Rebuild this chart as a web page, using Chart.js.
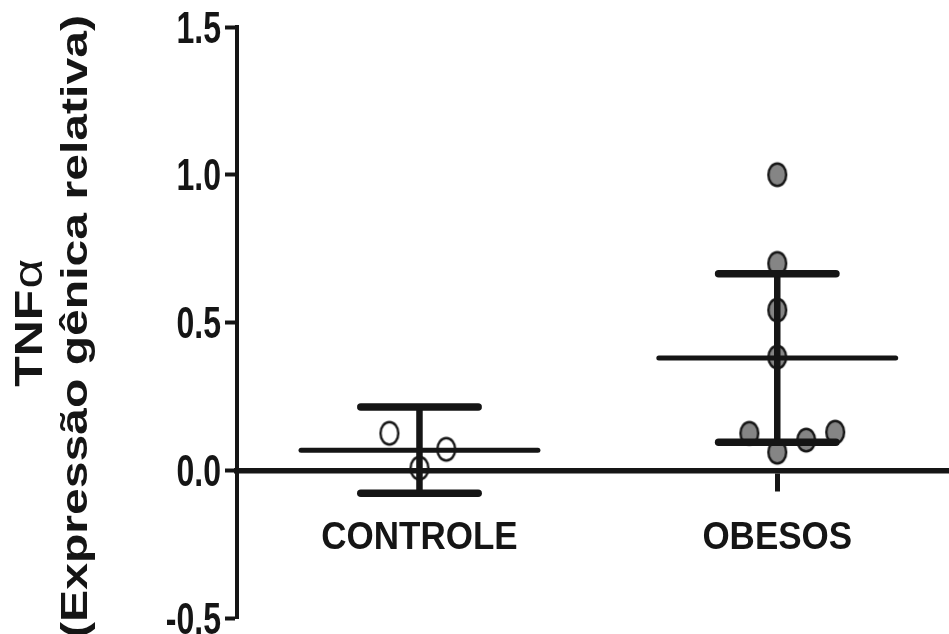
<!DOCTYPE html>
<html>
<head>
<meta charset="utf-8">
<script src="https://cdn.jsdelivr.net/npm/chart.js@4.4.1/dist/chart.umd.min.js"></script>
<style>
  html, body { margin: 0; padding: 0; background: #fff; }
  #wrap { width: 949px; height: 634px; }
</style>
</head>
<body>
<div id="wrap"><canvas id="tnf-chart"></canvas></div>
<script>
'use strict'

/* ------------------------------ Data ------------------------------ */

const groups = ['CONTROLE', 'OBESOS']
const yTicks = [-0.5, 0, 0.5, 1.0, 1.5]

// relative expression, one value per sample
const controleValues = [0.125, 0.007, 0.071]
const obesosValues = [1.0, 0.70, 0.542, 0.383, 0.125, 0.061, 0.102, 0.129]

// sideways spread of overlapping dots (category units)
const controleJitter = [-0.084, 0, 0.075]
const obesosJitter = [0, 0, 0, 0, -0.078, 0, 0.081, 0.162]

// mean and error bar half length per group
const groupMeans = [0.068, 0.380]
const groupErrors = [0.146, 0.285]

/* ------------------------------ Styles ------------------------------ */

const INK = '#151515'
const DOT_GREY = '#858585'
const MEAN_HALF = 0.331
const CAP_HALF = 0.164
const FONT = '"Liberation Sans", Arial, sans-serif'

// dots are slightly taller than wide, so draw them on a small canvas
function ellipseDot (fill) {
  const c = document.createElement('canvas')
  c.width = 24
  c.height = 28
  const g = c.getContext('2d')
  g.beginPath()
  g.ellipse(12, 14, 8.9, 11.2, 0, 0, Math.PI * 2)
  if (fill) {
    g.fillStyle = fill
    g.fill()
  }
  g.lineWidth = 2.4
  g.strokeStyle = INK
  g.stroke()
  return c
}

function segment (x1, y1, x2, y2, width, cap) {
  return {
    data: [{ x: x1, y: y1 }, { x: x2, y: y2 }],
    showLine: true,
    borderColor: INK,
    borderWidth: width,
    borderCapStyle: cap,
    pointRadius: 0,
    pointHoverRadius: 0
  }
}

function groupLines (i) {
  const cx = i + 1
  const m = groupMeans[i]
  const e = groupErrors[i]
  return [
    segment(cx - MEAN_HALF, m, cx + MEAN_HALF, m, 5, 'round'),
    segment(cx - CAP_HALF, m + e, cx + CAP_HALF, m + e, 7.5, 'round'),
    segment(cx - CAP_HALF, m - e, cx + CAP_HALF, m - e, 7.5, 'round'),
    segment(cx, m - e, cx, m + e, 6.5, 'butt')
  ]
}

function dots (values, jitter, cx, style) {
  return {
    data: values.map((v, k) => ({ x: cx + jitter[k], y: v })),
    pointStyle: style,
    pointRadius: 11,
    pointHoverRadius: 11
  }
}

/* --------------------------- Stretched text --------------------------- */

const textPlugin = {
  id: 'stretchedText',
  afterDraw (chart) {
    const { ctx } = chart
    const x = chart.scales.x
    const y = chart.scales.y
    ctx.save()
    ctx.fillStyle = INK
    ctx.textBaseline = 'alphabetic'

    // value labels on the left axis
    ctx.font = 'bold 32px ' + FONT
    ctx.textAlign = 'right'
    yTicks.forEach(v => {
      ctx.save()
      ctx.translate(y.right - 16, y.getPixelForValue(v) + 15.5)
      ctx.scale(1, 1.36)
      ctx.fillText(v.toFixed(1), 0, 0)
      ctx.restore()
    })

    // group names under the zero line
    ctx.font = 'bold 35px ' + FONT
    ctx.textAlign = 'center'
    groups.forEach((name, i) => {
      ctx.save()
      ctx.translate(x.getPixelForValue(i + 1), y.getPixelForValue(0) + 79)
      ctx.scale(1, 1.13)
      ctx.fillText(name, 0, 0)
      ctx.restore()
    })

    // rotated axis title, two lines
    const midY = (y.top + y.bottom) / 2
    ctx.save()
    ctx.translate(42, midY + 1)
    ctx.rotate(-Math.PI / 2)
    ctx.scale(1.28, 1)
    ctx.textAlign = 'left'
    ctx.font = 'bold 39px ' + FONT
    const wTnf = ctx.measureText('TNF').width
    ctx.font = '40px ' + FONT
    const wAlpha = ctx.measureText('α').width
    const start = -(wTnf + wAlpha) / 2
    ctx.font = 'bold 39px ' + FONT
    ctx.fillText('TNF', start, 0)
    ctx.font = '40px ' + FONT
    ctx.fillText('α', start + wTnf + 1, 0)
    ctx.restore()

    ctx.save()
    ctx.translate(87, midY + 4)
    ctx.rotate(-Math.PI / 2)
    ctx.scale(1.3, 1)
    ctx.textAlign = 'center'
    ctx.font = 'bold 37px ' + FONT
    ctx.fillText('(Expressão gênica relativa)', 0, 0)
    ctx.restore()

    ctx.restore()
  }
}

/* ------------------------------ Chart ------------------------------ */

const datasets = [
  ...groupLines(0),
  ...groupLines(1),
  dots(controleValues, controleJitter, 1, ellipseDot(null)),
  dots(obesosValues, obesosJitter, 2, ellipseDot(DOT_GREY))
]

new Chart(document.getElementById('tnf-chart'), {
  type: 'scatter',
  data: { datasets },
  plugins: [textPlugin],
  options: {
    responsive: true,
    maintainAspectRatio: false,
    animation: false,
    events: [],
    layout: { autoPadding: false, padding: { top: 27, bottom: 16, left: 0, right: 0 } },
    plugins: {
      legend: { display: false },
      tooltip: { enabled: false }
    },
    scales: {
      x: {
        type: 'linear',
        position: { y: 0 },
        min: 0.49,
        max: 2.48,
        afterBuildTicks: s => { s.ticks = groups.map((_, i) => ({ value: i + 1 })) },
        afterFit: s => { s.height = 0 },
        ticks: { display: false },
        grid: {
          drawOnChartArea: false,
          drawTicks: true,
          tickLength: 18,
          tickWidth: 5,
          color: INK
        },
        border: { display: true, width: 5.5, color: INK }
      },
      y: {
        type: 'linear',
        position: 'left',
        min: -0.5,
        max: 1.5,
        afterBuildTicks: s => { s.ticks = yTicks.map(v => ({ value: v })) },
        afterFit: s => { s.width = 237 },
        ticks: { display: false },
        grid: {
          drawOnChartArea: false,
          drawTicks: true,
          tickLength: 12,
          tickWidth: 4,
          color: INK
        },
        border: { display: true, width: 4, color: INK }
      }
    }
  }
})
</script>
</body>
</html>
